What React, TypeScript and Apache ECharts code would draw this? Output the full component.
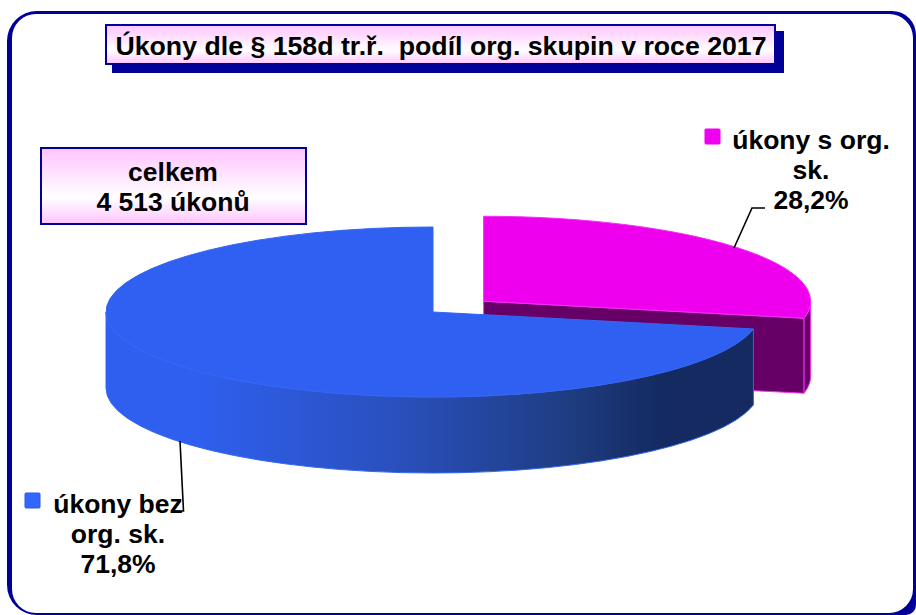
import React, { useEffect, useRef } from "react";
import * as echarts from "echarts";

const titleText = "Úkony dle § 158d tr.ř.  podíl org. skupin v roce 2017";
const totalText = "celkem\n4 513 úkonů";
const categories = ["úkony s org.\nsk.", "úkony bez\norg. sk."];
const shares = [28.2, 71.8];

const FONT = '"Liberation Sans", Arial, sans-serif';
const NAVY = "#000099";
const RX = 327;
const RY = 85;
const DEPTH = 76;
const CENTER: [number, number] = [433, 312];
const EXPLODE = [0.2, 0];
const TOP_FILL = ["#ee00ee", "#2f60f2"];
const TOP_EDGE = ["#f22ef2", "#3566f4"];
const KEY_EDGE = ["#ee00ee", "#2f55e8"];
const LABEL_AT = [[811, 170], [118, 534]];
const KEY_AT = [[705, 129], [25, 493]];
const LEADERS = [
  [[734, 248], [752, 208], [765, 208]],
  [[180, 441], [183.5, 511], [175, 511]],
];

const rad = (d: number) => (d * Math.PI) / 180;

function renderSlice(params: any, api: any) {
  const i = params.dataIndex;
  const value = api.value(0);
  let before = 0;
  for (let k = 0; k < i; k++) before += shares[k];
  const total = shares.reduce((a, b) => a + b, 0);
  const t0 = (before / total) * 360;
  const t1 = t0 + (value / total) * 360;
  const mid = (t0 + t1) / 2;
  const cx = CENTER[0] + EXPLODE[i] * RX * Math.sin(rad(mid));
  const cy = CENTER[1] - EXPLODE[i] * RY * Math.cos(rad(mid));
  const P = (t: number, dy = 0) => [cx + RX * Math.sin(rad(t)), cy - RY * Math.cos(rad(t)) + dy];
  const arc = (t: number, large: number, sweep: number, dy = 0) => {
    const p = P(t, dy);
    return `A${RX} ${RY} 0 ${large} ${sweep} ${p[0]} ${p[1]}`;
  };
  const start = P(t0);
  const end = P(t1);
  const large = t1 - t0 > 180 ? 1 : 0;
  const topPath = `M${cx} ${cy}L${start[0]} ${start[1]}${arc(t1, large, 1)}Z`;

  const children: any[] = [];
  if (i === 0) {
    const e = P(t1);
    children.push({
      type: "polygon",
      shape: { points: [[cx, cy], e, [e[0], e[1] + DEPTH - 1], [cx, cy + DEPTH]] },
      style: { fill: "#660066", stroke: "#f22ef2", lineWidth: 1 },
    });
    const a = P(90);
    const b = P(t1);
    children.push({
      type: "path",
      shape: {
        pathData: `M${a[0]} ${a[1]}${arc(t1, 0, 1)}L${b[0]} ${b[1] + DEPTH - 1}${arc(90, 0, 0, DEPTH - 1)}Z`,
      },
      style: { fill: "#660066", stroke: "#f22ef2", lineWidth: 1 },
    });
  } else {
    const b0 = P(t0);
    const leftP = P(270);
    children.push({
      type: "path",
      shape: {
        pathData: `M${b0[0]} ${b0[1]}${arc(270, 0, 1)}L${leftP[0]} ${leftP[1] + DEPTH}${arc(t0, 0, 0, DEPTH)}Z`,
      },
      style: {
        fill: {
          type: "linear", x: cx - RX, y: 0, x2: b0[0], y2: 0, global: true,
          colorStops: [
            { offset: 0, color: "#2f5fee" },
            { offset: 0.14, color: "#2f5fee" },
            { offset: 0.45, color: "#2a50bd" },
            { offset: 0.72, color: "#1e3c80" },
            { offset: 0.86, color: "#142a60" },
            { offset: 1, color: "#142a60" },
          ],
        },
        stroke: TOP_EDGE[i],
        lineWidth: 1,
      },
    });
  }
  children.push({
    type: "path",
    shape: { pathData: topPath },
    style: { fill: TOP_FILL[i], stroke: TOP_EDGE[i], lineWidth: 1 },
  });

  const pct = value.toFixed(1).replace(".", ",") + "%";
  children.push({
    type: "text",
    style: {
      x: LABEL_AT[i][0], y: LABEL_AT[i][1],
      text: categories[i] + "\n" + pct,
      font: `bold 26.5px ${FONT}`, fill: "#000000",
      align: "center", verticalAlign: "middle", lineHeight: 30,
    },
  });
  children.push({
    type: "rect",
    shape: { x: KEY_AT[i][0], y: KEY_AT[i][1], width: 15, height: 15, r: 1 },
    style: { fill: i === 0 ? "#f000f0" : "#3366ff", stroke: KEY_EDGE[i], lineWidth: 1 },
  });
  children.push({
    type: "polyline",
    shape: { points: LEADERS[i] },
    style: { fill: "none", stroke: "#000000", lineWidth: 1.6 },
  });
  return { type: "group", children };
}

const boxFill = {
  type: "linear", x: 0, y: 0, x2: 0, y2: 1,
  colorStops: [
    { offset: 0, color: "#ffc4ff" },
    { offset: 0.65, color: "#ffffff" },
    { offset: 1, color: "#ffc4ff" },
  ],
};

export default function App() {
  const ref = useRef<HTMLDivElement>(null);
  useEffect(() => {
    document.body.style.margin = "0";
    const chart = echarts.init(ref.current!, null, { renderer: "svg" });
    chart.setOption({
      animation: false,
      backgroundColor: "#ffffff",
      graphic: [
        { type: "rect", z: 0, shape: { x: 7, y: 11, width: 909, height: 604, r: [30, 24, 10, 30] }, style: { fill: NAVY } },
        { type: "rect", z: 1, shape: { x: 12, y: 14, width: 901, height: 599, r: 24 }, style: { fill: "#ffffff" } },
        { type: "rect", z: 20, shape: { x: 112, y: 31, width: 672, height: 42 }, style: { fill: NAVY } },
        { type: "rect", z: 21, shape: { x: 106, y: 25, width: 669, height: 39 }, style: { fill: boxFill, stroke: NAVY, lineWidth: 2 } },
        {
          type: "text", z: 22,
          style: { x: 441, y: 46, text: titleText, font: `bold 26.7px ${FONT}`, fill: "#000000", align: "center", verticalAlign: "middle" },
        },
        { type: "rect", z: 20, shape: { x: 41, y: 148, width: 265, height: 76 }, style: { fill: boxFill, stroke: NAVY, lineWidth: 2 } },
        {
          type: "text", z: 22,
          style: { x: 173, y: 187, text: totalText, font: `bold 26.5px ${FONT}`, fill: "#000000", align: "center", verticalAlign: "middle", lineHeight: 30 },
        },
      ],
      series: [
        {
          type: "custom",
          coordinateSystem: "none",
          z: 5,
          silent: true,
          data: shares.map((v) => [v]),
          renderItem: renderSlice,
        },
      ],
    });
    return () => chart.dispose();
  }, []);
  return <div ref={ref} style={{ position: "fixed", left: 0, top: 0, width: 916, height: 615 }} />;
}
